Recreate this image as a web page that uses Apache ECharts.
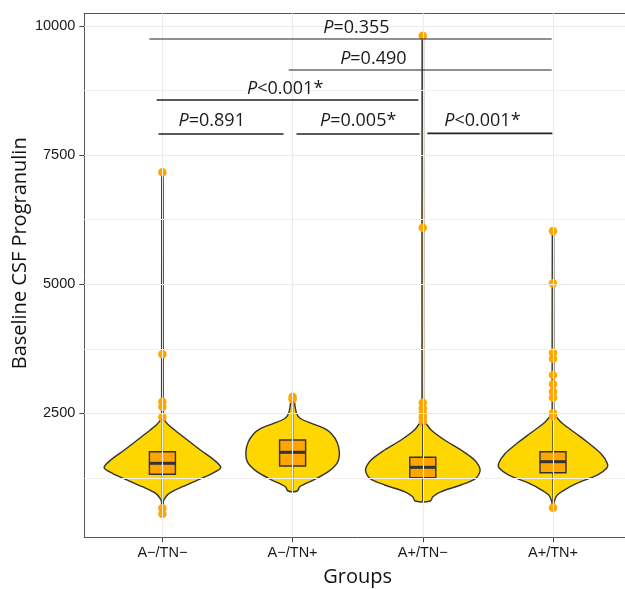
<!DOCTYPE html>
<html>
<head>
<meta charset="utf-8">
<script src="https://cdn.jsdelivr.net/npm/echarts@6/dist/echarts.min.js"></script>
<style>
html,body{margin:0;padding:0;background:#fff;overflow:hidden;width:625px;height:589px;}
#chart{width:640px;height:589px;}
</style>
</head>
<body>
<div id="chart"></div>
<script>
// ---------- data ----------
const categories = ['A\u2212/TN\u2212', 'A\u2212/TN+', 'A+/TN\u2212', 'A+/TN+'];
const yTicks = [2500, 5000, 7500, 10000];
const yMinorGrid = [1250, 3750, 6250, 8750];

// violin outlines: [value, half-width in category units], top to bottom
const violinAnTn = [[7167, 0.005], [2450, 0.006], [2384, 0.012], [2280, 0.045], [2177, 0.094], [1983, 0.192], [1789, 0.292], [1596, 0.397], [1447, 0.448], [1338, 0.384], [1208, 0.269], [1079, 0.154], [950, 0.051], [853, 0.018], [788, 0.007], [550, 0.005]];
const violinAnTp = [[2822, 0.006], [2700, 0.015], [2500, 0.03], [2400, 0.06], [2300, 0.15], [2200, 0.25], [2100, 0.30], [1950, 0.34], [1750, 0.359], [1550, 0.345], [1370, 0.274], [1208, 0.159], [1079, 0.056], [995, 0.035]];
const violinApTn = [[9812, 0.005], [2400, 0.006], [2370, 0.009], [2306, 0.025], [2177, 0.064], [1983, 0.167], [1789, 0.294], [1596, 0.397], [1402, 0.440], [1241, 0.407], [1112, 0.294], [982, 0.141], [885, 0.077], [802, 0.059]];
const violinApTp = [[6030, 0.005], [2550, 0.006], [2500, 0.009], [2434, 0.025], [2306, 0.071], [2113, 0.174], [1919, 0.276], [1725, 0.366], [1532, 0.417], [1435, 0.412], [1305, 0.340], [1175, 0.213], [1048, 0.110], [918, 0.033], [788, 0.009], [672, 0.005]];
const violins = [violinAnTn, violinAnTp, violinApTn, violinApTp];

// box stats: [lower whisker, Q1, median, Q3, upper whisker]
const boxAnTn = [790, 1319, 1532, 1756, 2400];
const boxAnTp = [1000, 1479, 1745, 1983, 2740];
const boxApTn = [800, 1253, 1454, 1648, 2300];
const boxApTp = [790, 1350, 1563, 1756, 2360];
const boxes = [boxAnTn, boxAnTp, boxApTn, boxApTp];

// outliers
const outAnTn = [7167, 3643, 2725, 2628, 2423, 660, 550];
const outAnTp = [2822, 2770];
const outApTn = [9812, 6094, 2705, 2597, 2500, 2423, 2337];
const outApTp = [6030, 5018, 3674, 3557, 3242, 3062, 2918, 2802, 2500, 2448, 672];
const outliers = [outAnTn, outAnTp, outApTn, outApTp];

// significance brackets
const sigLabels = ['P=0.355', 'P=0.490', 'P<0.001*', 'P=0.891', 'P=0.005*', 'P<0.001*'];
const sigX1 = [0.9, 1.97, 0.956, 0.97, 2.03, 3.035];
const sigX2 = [3.99, 3.99, 2.966, 1.93, 2.976, 3.995];
const sigY = [9748, 9148, 8567, 7909, 7909, 7922];
const sigTextX = [2.49, 2.62, 1.943, 1.379, 2.504, 3.458];
const sigTextY = [9967, 9361, 8780, 8160, 8160, 8160];

// ---------- chart ----------
const chart = echarts.init(document.getElementById('chart'), null, {renderer: 'canvas'});
const dark = '#333333';
const borderStyle = {color: '#555', width: 1};

const outlierData = [];
outliers.forEach((arr, i) => arr.forEach(v => outlierData.push([i + 1, v])));

const option = {
  animation: false,
  backgroundColor: '#ffffff',
  grid: {
    left: 84.3, right: 8.9, top: 13.3, bottom: 51.7,
    show: false, containLabel: false, outerBoundsMode: 'none'
  },
  xAxis: [{
    type: 'value', min: 0.4, max: 4.6, position: 'bottom',
    name: 'Groups', nameLocation: 'middle', nameGap: 30, nameMoveOverlap: false,
    nameTextStyle: {fontFamily: 'Open Sans', fontSize: 20, color: '#111'},
    axisLine: {show: true, lineStyle: borderStyle},
    axisTick: {show: true, length: 5, customValues: [1, 2, 3, 4], lineStyle: {color: '#444', width: 1}},
    axisLabel: {customValues: [1, 2, 3, 4], margin: 8, formatter: v => categories[Math.round(v) - 1],
      fontFamily: 'Liberation Sans', fontSize: 14.5, color: '#1a1a1a'},
    splitLine: {show: false}
  }, {
    type: 'value', min: 0.4, max: 4.6, position: 'top',
    axisLine: {show: true, lineStyle: borderStyle},
    axisTick: {show: false}, axisLabel: {show: false}, splitLine: {show: false}
  }],
  yAxis: {
    type: 'value', min: 99, max: 10246,
    name: 'Baseline CSF Progranulin', nameLocation: 'middle', nameGap: 54, nameMoveOverlap: false,
    nameTextStyle: {fontFamily: 'Open Sans', fontSize: 20, color: '#111', padding: [0, 0, 0, 44]},
    axisLine: {show: true, lineStyle: borderStyle},
    axisTick: {show: true, length: 5, customValues: yTicks, lineStyle: {color: '#444', width: 1}},
    axisLabel: {customValues: yTicks, margin: 9, formatter: v => String(Math.round(v)),
      fontFamily: 'Liberation Sans', fontSize: 14.5, color: '#1a1a1a'},
    splitLine: {show: false}
  },
  series: [
    {
      type: 'line', data: [], z: 1, silent: true,
      markLine: {
        silent: true, symbol: ['none', 'none'], label: {show: false}, animation: false,
        lineStyle: {color: '#EBEBEB', type: 'solid', width: 1.1},
        data: yTicks.map(v => ({yAxis: v})).concat(yMinorGrid.map(v => ({yAxis: v, lineStyle: {color: '#F0F0F0', width: 1}})))
          .concat([1, 2, 3, 4].map(v => ({xAxis: v})))
      }
    },
    {
      type: 'custom', z: 2, silent: true,
      data: [[0], [1], [2], [3]],
      renderItem: function (params, api) {
        const idx = api.value(0);
        const prof = violins[idx];
        const cx = idx + 1;
        const right = prof.map(p => api.coord([cx + p[1], p[0]]));
        const left = prof.slice().reverse().map(p => api.coord([cx - p[1], p[0]]));
        return {
          type: 'polygon',
          shape: {points: right.concat(left), smooth: 0.3},
          style: {fill: '#FFD700', stroke: dark, lineWidth: 1.4}
        };
      }
    },
    {
      type: 'scatter', z: 3, silent: true,
      data: outlierData, symbol: 'circle', symbolSize: 8.5,
      itemStyle: {color: '#FFA500', borderWidth: 0, opacity: 1}
    },
    {
      type: 'custom', z: 4, silent: true,
      data: boxes.map((b, i) => [i + 1].concat(b)),
      renderItem: function (params, api) {
        const x = api.value(0);
        const lw = api.value(1), q1 = api.value(2), md = api.value(3), q3 = api.value(4), uw = api.value(5);
        const hw = 0.1;
        const pUw = api.coord([x, uw]), pQ3 = api.coord([x, q3]), pQ1 = api.coord([x, q1]), pLw = api.coord([x, lw]);
        const tl = api.coord([x - hw, q3]), br = api.coord([x + hw, q1]);
        const ml = api.coord([x - hw, md]), mr = api.coord([x + hw, md]);
        return {
          type: 'group',
          children: [
            {type: 'line', shape: {x1: pUw[0], y1: pUw[1], x2: pQ3[0], y2: pQ3[1]}, style: {stroke: dark, lineWidth: 1.4}},
            {type: 'line', shape: {x1: pQ1[0], y1: pQ1[1], x2: pLw[0], y2: pLw[1]}, style: {stroke: dark, lineWidth: 1.4}},
            {type: 'rect', shape: {x: tl[0], y: tl[1], width: br[0] - tl[0], height: br[1] - tl[1]}, style: {fill: '#FFA500', stroke: dark, lineWidth: 1.4}},
            {type: 'line', shape: {x1: ml[0], y1: ml[1], x2: mr[0], y2: mr[1]}, style: {stroke: dark, lineWidth: 3}}
          ]
        };
      }
    },
    {
      type: 'custom', z: 5, silent: true,
      data: sigLabels.map((s, i) => [sigX1[i], sigX2[i], sigY[i], sigTextX[i], sigTextY[i], i]),
      renderItem: function (params, api) {
        const i = api.value(5);
        const a = api.coord([api.value(0), api.value(2)]);
        const b = api.coord([api.value(1), api.value(2)]);
        const t = api.coord([api.value(3), api.value(4)]);
        const label = sigLabels[i];
        return {
          type: 'group',
          children: [
            {type: 'line', shape: {x1: a[0], y1: a[1], x2: b[0], y2: b[1]}, style: {stroke: '#222', lineWidth: i < 2 ? 1.1 : 1.7}},
            {type: 'text', x: t[0], y: t[1], style: {
              text: '{i|' + label.charAt(0) + '}' + label.slice(1),
              align: 'center', verticalAlign: 'middle',
              fontFamily: 'Open Sans', fontSize: 18, fill: '#1a1a1a',
              rich: {i: {fontStyle: 'italic', fontFamily: 'Open Sans', fontSize: 18, fill: '#1a1a1a'}}
            }}
          ]
        };
      }
    }
  ]
};
chart.setOption(option);
</script>
</body>
</html>
